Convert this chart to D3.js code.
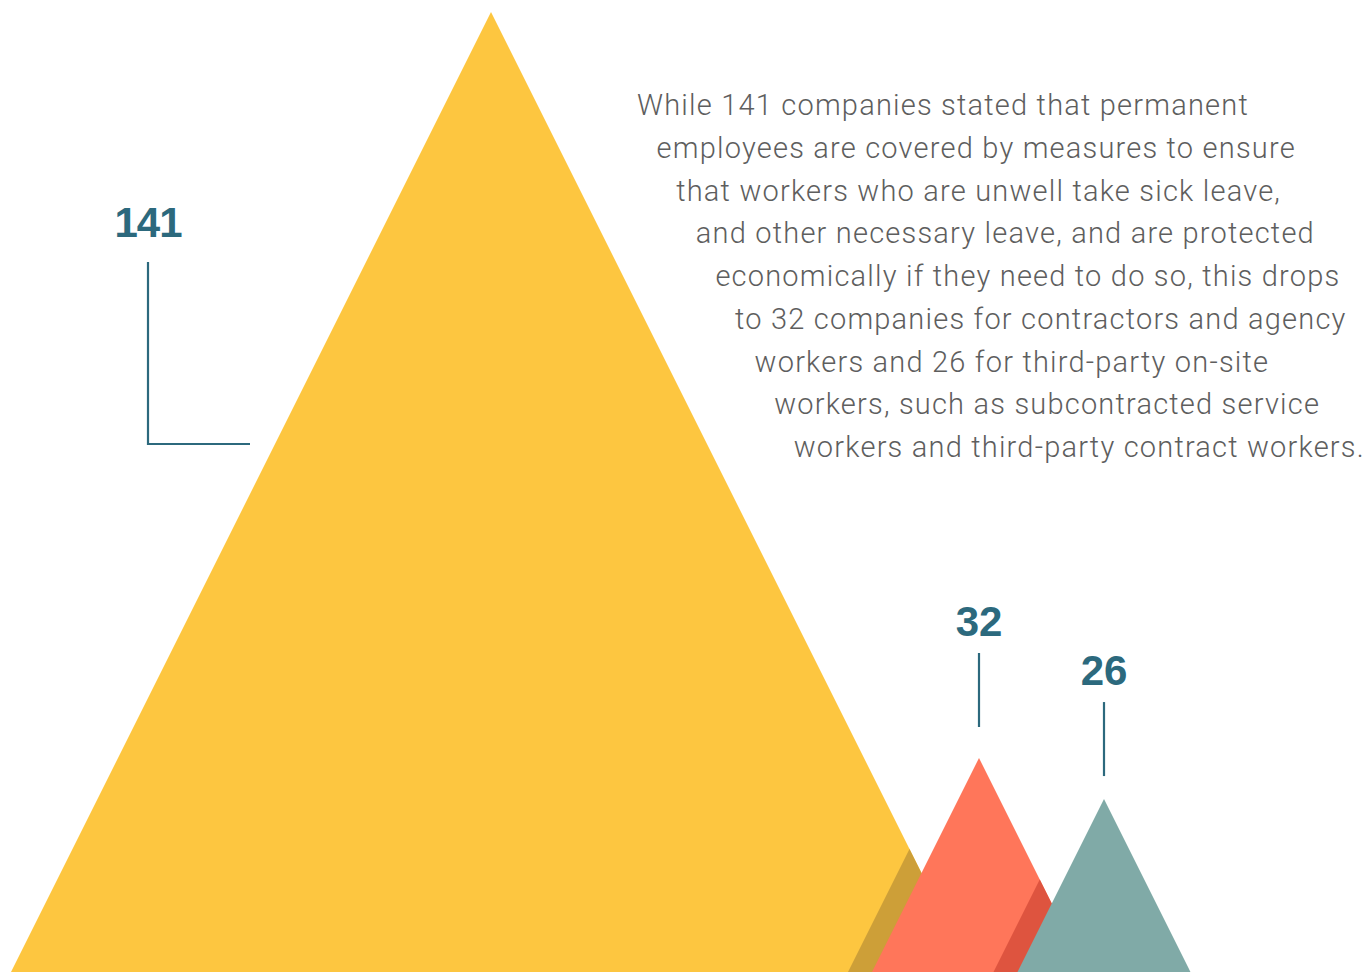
<!DOCTYPE html>
<html>
<head>
<meta charset="utf-8">
<script src="https://cdn.jsdelivr.net/npm/d3@7"></script>
<style>
  html, body { margin: 0; padding: 0; background: #ffffff; overflow: hidden; }
  svg { display: block; }
</style>
</head>
<body>
<svg id="chart" width="1370" height="972"></svg>
<script>
// Number of companies covering each worker group with sick-leave measures
const categories = ["Permanent employees", "Contractors and agency workers", "Third-party on-site workers"];
const companies = [141, 32, 26];
const valueLabels = ["141", "32", "26"];

const paragraphLines = [
  "While 141 companies stated that permanent",
  "employees are covered by measures to ensure",
  "that workers who are unwell take sick leave,",
  "and other necessary leave, and are protected",
  "economically if they need to do so, this drops",
  "to 32 companies for contractors and agency",
  "workers and 26 for third-party on-site",
  "workers, such as subcontracted service",
  "workers and third-party contract workers."
];

const W = 1370, H = 972;
const svg = d3.select("#chart");

const fills = ["#fdc640", "#ff765a", "#80aaa7"];
const shadowFills = [null, "#cd9f38", "#de543f"];
const labelColor = "#2c697d";

// Peak positions along the baseline
const x = d3.scaleOrdinal().domain(categories).range([491, 979, 1104]);
// Peak height is proportional to the number of companies
const y = d3.scaleLinear().domain([0, 141]).range([977, 12]);
const halfSlope = 0.5;          // half-width per unit of height
const shadowShift = -24;        // offset of the shadow each peak casts on its neighbour
const leaderGap = [0, 31, 23];  // space between a leader line and its peak
const leaderLength = 74;

const data = categories.map((c, i) => ({ cat: c, value: companies[i], label: valueLabels[i], i }));

function triangle(d, dx = 0) {
  const cx = x(d.cat) + dx, top = y(d.value), base = y(0);
  const hw = (base - top) * halfSlope;
  return `M${cx},${top}L${cx + hw},${base}L${cx - hw},${base}Z`;
}

const defs = svg.append("defs");
data.forEach(d => {
  defs.append("clipPath").attr("id", "clip-" + d.i)
    .append("path").attr("d", triangle(d));
});

// Peaks, each with the shadow it casts on the one behind it
const mountains = svg.append("g");
data.forEach(d => {
  if (d.i > 0) {
    mountains.append("path")
      .attr("d", triangle(d, shadowShift))
      .attr("clip-path", `url(#clip-${d.i - 1})`)
      .attr("fill", shadowFills[d.i]);
  }
  mountains.append("path")
    .attr("d", triangle(d))
    .attr("fill", fills[d.i]);
});

// Value labels with leader lines
const labelFont = "'Liberation Sans', Arial, sans-serif";
const big = data[0];
svg.append("text")
  .attr("x", 148).attr("y", 237)
  .attr("text-anchor", "middle")
  .attr("font-family", labelFont).attr("font-weight", 700)
  .attr("font-size", 42).attr("fill", labelColor)
  .attr("letter-spacing", -1)
  .text(big.label);
svg.append("path")
  .attr("d", `M148,262V444H250`)
  .attr("fill", "none").attr("stroke", labelColor).attr("stroke-width", 2.2);

data.slice(1).forEach(d => {
  const cx = x(d.cat), top = y(d.value);
  const lineBottom = top - leaderGap[d.i], lineTop = lineBottom - leaderLength;
  svg.append("line")
    .attr("x1", cx).attr("x2", cx)
    .attr("y1", lineTop).attr("y2", lineBottom)
    .attr("stroke", labelColor).attr("stroke-width", 2.2);
  svg.append("text")
    .attr("x", cx).attr("y", lineTop - 17)
    .attr("text-anchor", "middle")
    .attr("font-family", labelFont).attr("font-weight", 700)
    .attr("font-size", 42).attr("fill", labelColor)
    .text(d.label);
});

// Explanatory paragraph, stepped along the slope
svg.append("g").selectAll("text")
  .data(paragraphLines)
  .join("text")
  .attr("x", (t, i) => 637 + i * 19.6)
  .attr("y", (t, i) => 115 + i * 42.75)
  .attr("font-family", "Roboto, 'Open Sans', sans-serif")
  .attr("font-weight", 300)
  .attr("font-size", 29)
  .attr("letter-spacing", 1.2)
  .attr("fill", "#5e5e5e")
  .text(t => t);
</script>
</body>
</html>
